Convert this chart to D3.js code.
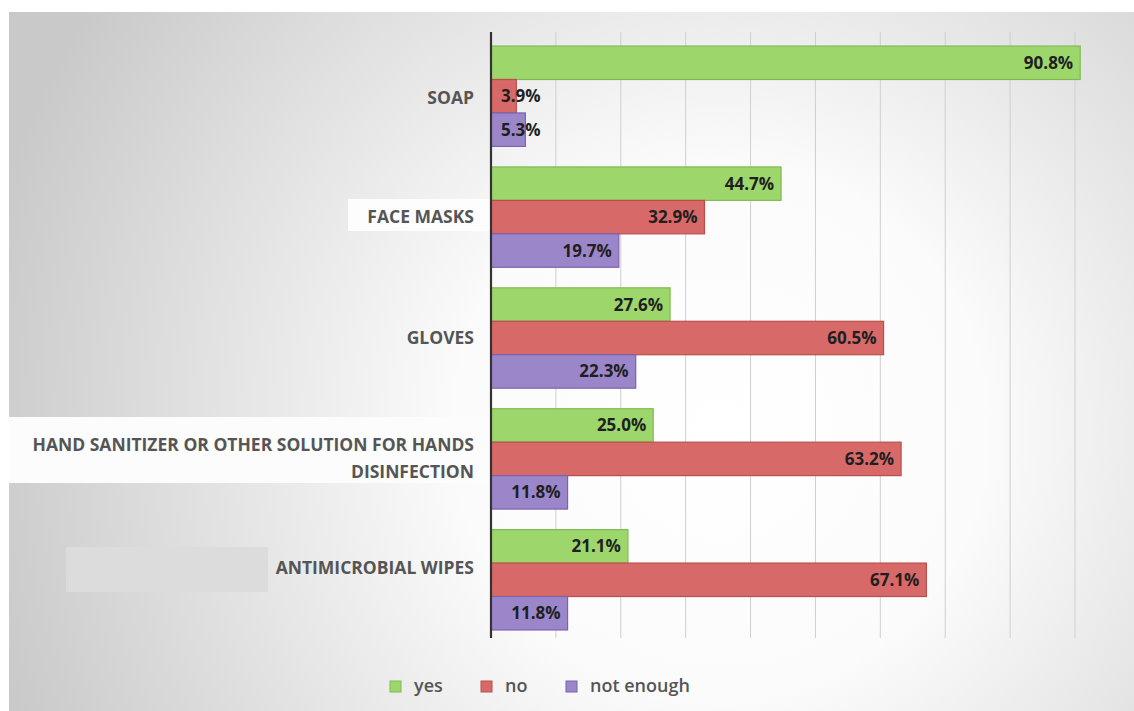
<!DOCTYPE html>
<html>
<head>
<meta charset="utf-8">
<script src="https://cdn.jsdelivr.net/npm/d3@7"></script>
<style>
  body { margin: 0; background: #fff; }
  svg { display: block; }
</style>
</head>
<body>
<div id="chart"></div>
<script>
// chart data
var categories = ["SOAP", "FACE MASKS", "GLOVES", "HAND SANITIZER OR OTHER SOLUTION FOR HANDS DISINFECTION", "ANTIMICROBIAL WIPES"];
var seriesNames = ["yes", "no", "not enough"];
var yesValues = [90.8, 44.7, 27.6, 25.0, 21.1];
var noValues = [3.9, 32.9, 60.5, 63.2, 67.1];
var notEnoughValues = [5.3, 19.7, 22.3, 11.8, 11.8];
var gridTicks = [0, 10, 20, 30, 40, 50, 60, 70, 80, 90];

var fills = ["#9dd66b", "#d76a68", "#9c86ca"];
var strokes = ["#80bb52", "#bb4e4c", "#7b62ad"];

var W = 1134, H = 711;
var svg = d3.select("#chart").append("svg")
  .attr("width", W).attr("height", H);

// background panel with soft radial gradient
var defs = svg.append("defs");
var grad = defs.append("radialGradient").attr("id", "bg")
  .attr("gradientUnits", "userSpaceOnUse")
  .attr("cx", 720).attr("cy", 430).attr("r", 760);
grad.append("stop").attr("offset", "0%").attr("stop-color", "#ffffff");
grad.append("stop").attr("offset", "35%").attr("stop-color", "#fbfbfb");
grad.append("stop").attr("offset", "100%").attr("stop-color", "#c9c9c9");
svg.append("rect").attr("x", 9).attr("y", 12).attr("width", W - 9).attr("height", H - 12)
  .attr("fill", "url(#bg)");

// odd patches behind some labels (present in the source image)
svg.append("rect").attr("x", 348).attr("y", 199).attr("width", 142).attr("height", 32).attr("fill", "#fdfdfd");
svg.append("rect").attr("x", 9).attr("y", 417).attr("width", 481).attr("height", 66).attr("fill", "#fcfcfc");
svg.append("rect").attr("x", 66).attr("y", 547).attr("width", 202).attr("height", 45).attr("fill", "#dcdcdc");

var x0 = 491;
var x = d3.scaleLinear().domain([0, 90]).range([x0, x0 + 584]);

var y = d3.scaleBand().domain(categories).range([40, 636]).paddingInner(0.17).paddingOuter(0.05);
var ySub = d3.scaleBand().domain(seriesNames).range([0, y.bandwidth()]);

// gridlines
svg.append("g").selectAll("line").data(gridTicks.slice(1)).enter().append("line")
  .attr("x1", function(d) { return x(d); }).attr("x2", function(d) { return x(d); })
  .attr("y1", 32).attr("y2", 638)
  .attr("stroke", "#cfcfcf").attr("stroke-width", 1);

var rows = categories.map(function(c, i) {
  return { cat: c, vals: [yesValues[i], noValues[i], notEnoughValues[i]] };
});

var group = svg.append("g").selectAll("g").data(rows).enter().append("g")
  .attr("transform", function(d) { return "translate(0," + y(d.cat) + ")"; });

group.selectAll("rect").data(function(d) {
  return d.vals.map(function(v, j) { return { v: v, j: j }; });
}).enter().append("rect")
  .attr("x", x0)
  .attr("y", function(d) { return ySub(seriesNames[d.j]); })
  .attr("width", function(d) { return x(d.v) - x0; })
  .attr("height", ySub.bandwidth())
  .attr("fill", function(d) { return fills[d.j]; })
  .attr("stroke", function(d) { return strokes[d.j]; })
  .attr("stroke-width", 1.2);

group.selectAll("text").data(function(d) {
  return d.vals.map(function(v, j) { return { v: v, j: j }; });
}).enter().append("text")
  .attr("x", function(d) {
    var w = x(d.v) - x0;
    return w < 60 ? x0 + 10 : x(d.v) - 7;
  })
  .attr("text-anchor", function(d) { return (x(d.v) - x0) < 60 ? "start" : "end"; })
  .attr("y", function(d) { return ySub(seriesNames[d.j]) + ySub.bandwidth() / 2 + 6; })
  .attr("font-family", "Open Sans, sans-serif")
  .attr("font-weight", 700)
  .attr("font-size", 17)
  .attr("fill", "#1f1f1f")
  .text(function(d) { return d.v.toFixed(1) + "%"; });

// category labels
var labelLines = {
  "HAND SANITIZER OR OTHER SOLUTION FOR HANDS DISINFECTION": ["HAND SANITIZER OR OTHER SOLUTION FOR HANDS", "DISINFECTION"]
};
var labelShift = { "SOAP": 2, "ANTIMICROBIAL WIPES": -12 };
var labels = svg.append("g").selectAll("text").data(categories).enter().append("text")
  .attr("text-anchor", "end")
  .attr("font-family", "Open Sans, sans-serif")
  .attr("font-weight", 700)
  .attr("font-size", 17.5)
  .attr("fill", "#555");
labels.each(function(c) {
  var lines = labelLines[c] || [c];
  var cy = y(c) + y.bandwidth() / 2 + (labelShift[c] || 0);
  var t = d3.select(this);
  lines.forEach(function(l, k) {
    t.append("tspan").attr("x", 474)
      .attr("y", cy + 6 + (k - (lines.length - 1) / 2) * 27)
      .text(l);
  });
});

// axis line
svg.append("line").attr("x1", x0).attr("x2", x0).attr("y1", 32).attr("y2", 638)
  .attr("stroke", "#333").attr("stroke-width", 2.2);

// legend
var legendX = [390, 481, 566];
var legend = svg.append("g").selectAll("g").data(seriesNames).enter().append("g")
  .attr("transform", function(d, i) { return "translate(" + legendX[i] + ",681)"; });
legend.append("rect").attr("width", 11).attr("height", 11)
  .attr("fill", function(d, i) { return fills[i]; })
  .attr("stroke", function(d, i) { return strokes[i]; });
legend.append("text").attr("x", 24).attr("y", 11)
  .attr("font-family", "Open Sans, sans-serif")
  .attr("font-weight", 600)
  .attr("font-size", 18)
  .attr("fill", "#555")
  .text(function(d) { return d; });
</script>
</body>
</html>
